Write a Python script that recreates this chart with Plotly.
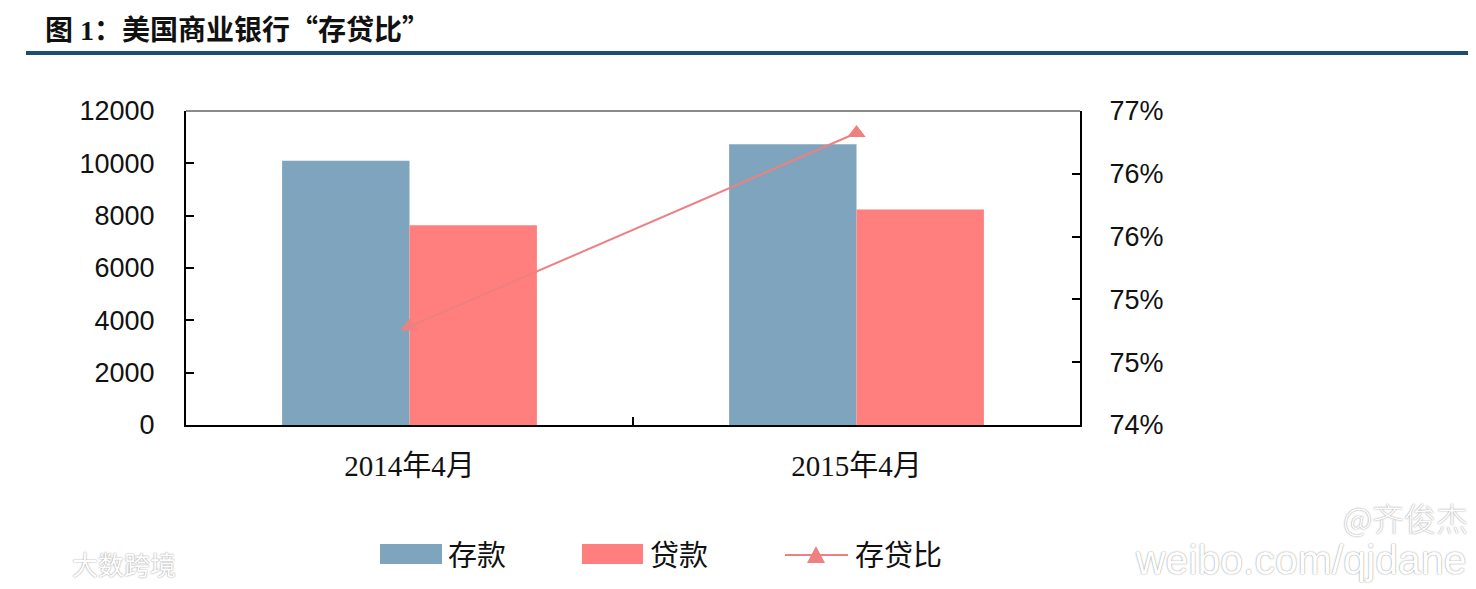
import plotly.graph_objects as go

categories = ["2014年4月", "2015年4月"]
deposits = [10100, 10730]
loans = [7630, 8240]
ratio = [74.94, 76.79]
ratio_ticks = [74.0, 74.6, 75.2, 75.8, 76.4, 77.0]
ratio_ticktext = ["74%", "75%", "75%", "76%", "76%", "77%"]

OFF = 8  # default page body margin
W, H = 1476 - OFF, 589 - OFF
L, R, T, B = 186, 1080, 111, 425  # plot area bounds in page pixels


def px(x):
    return (x - L) / (R - L)


def py(y):
    return (B - y) / (B - T)


c_dep = "#7FA5BE"
c_loan = "#FF7F7F"
c_line = "#EE8080"

fig = go.Figure()
fig.add_trace(go.Bar(x=categories, y=deposits, name="存款", marker_color=c_dep, marker_line_width=0))
fig.add_trace(go.Bar(x=categories, y=loans, name="贷款", marker_color=c_loan, marker_line_width=0))
fig.add_trace(go.Scatter(x=categories, y=ratio, name="存贷比", yaxis="y2", mode="lines+markers",
                         line=dict(color=c_line, width=2),
                         marker=dict(symbol="triangle-up", size=16, color=c_line)))

axis_font = dict(family="Liberation Sans, Arial", size=27, color="#111")

fig.update_layout(
    width=W, height=H,
    margin=dict(l=L - OFF, r=1476 - R, t=T - OFF, b=589 - B, pad=0),
    paper_bgcolor="white", plot_bgcolor="white",
    barmode="group", bargap=0.43, bargroupgap=0,
    showlegend=False,
    xaxis=dict(type="category", showline=True, linecolor="black", linewidth=2,
               ticks="inside", ticklen=8, tickwidth=2, tickcolor="black", tickson="boundaries",
               showgrid=False, zeroline=False, ticklabelstandoff=14,
               tickfont=dict(family="Liberation Serif, Noto Sans CJK SC", size=29, color="#111")),
    yaxis=dict(range=[0, 12000], dtick=2000, tickformat="d", showline=True, linecolor="black", linewidth=2,
               ticks="inside", ticklen=8, tickwidth=2, tickcolor="black",
               showgrid=False, zeroline=False, tickfont=axis_font, ticklabelstandoff=24),
    yaxis2=dict(range=[74, 77], overlaying="y", side="right", tickvals=ratio_ticks,
                ticktext=ratio_ticktext, showline=True, linecolor="black", linewidth=2,
                ticks="inside", ticklen=8, tickwidth=2, tickcolor="black",
                showgrid=False, zeroline=False, tickfont=axis_font, ticklabelstandoff=22),
)

shapes = []
shapes.append(dict(type="line", xref="paper", yref="paper", x0=0, x1=1, y0=1, y1=1,
                   line=dict(color="#8a8a8a", width=2)))
shapes.append(dict(type="line", xref="paper", yref="paper", x0=px(26), x1=px(1476), y0=py(53), y1=py(53),
                   line=dict(color="#1B4F72", width=4)))
shapes.append(dict(type="rect", xref="paper", yref="paper", x0=px(380), x1=px(442), y0=py(564), y1=py(544),
                   fillcolor=c_dep, line=dict(width=0)))
shapes.append(dict(type="rect", xref="paper", yref="paper", x0=px(582), x1=px(643), y0=py(564), y1=py(544),
                   fillcolor=c_loan, line=dict(width=0)))
shapes.append(dict(type="line", xref="paper", yref="paper", x0=px(785), x1=px(848), y0=py(555), y1=py(555),
                   line=dict(color=c_line, width=2)))
shapes.append(dict(type="path", xref="paper", yref="paper",
                   path=f"M {px(807)} {py(563)} L {px(825)} {py(563)} L {px(816)} {py(546)} Z",
                   fillcolor=c_line, line=dict(width=0)))
fig.update_layout(shapes=shapes)

ann = []
cjk = "font-family:Noto Sans CJK SC"
title = (f"<b>图 1：美国商业银行<span style='{cjk}'>“</span>存贷比"
         f"<span style='{cjk}'>”</span></b>")
ann.append(dict(text=title, xref="paper", yref="paper", x=px(43), y=py(28),
                xanchor="left", yanchor="middle", showarrow=False,
                font=dict(family="Liberation Serif, Noto Sans CJK SC", size=28, color="#111")))
leg_font = dict(family="Noto Sans CJK SC", size=29, color="#111")
for txt, x in [("存款", 446), ("贷款", 648), ("存贷比", 853)]:
    ann.append(dict(text=txt, xref="paper", yref="paper", x=px(x), y=py(553), xanchor="left",
                    yanchor="middle", showarrow=False, font=leg_font))
wm = dict(color="white", shadow="0px 0px 1.5px #777")
ann.append(dict(text="@齐俊杰", xref="paper", yref="paper", x=px(1470), y=py(517), xanchor="right",
                yanchor="middle", showarrow=False,
                font=dict(family="Noto Sans CJK SC", size=32, weight=300, **wm)))
ann.append(dict(text="weibo.com/qjdane", xref="paper", yref="paper", x=px(1468), y=py(560), xanchor="right",
                yanchor="middle", showarrow=False,
                font=dict(family="Liberation Sans", size=41, **wm)))
ann.append(dict(text="大数跨境", xref="paper", yref="paper", x=px(70), y=py(563), xanchor="left",
                yanchor="middle", showarrow=False,
                font=dict(family="Noto Sans CJK SC", size=26, **wm)))
fig.update_layout(annotations=ann)

fig.write_html("out.html")
